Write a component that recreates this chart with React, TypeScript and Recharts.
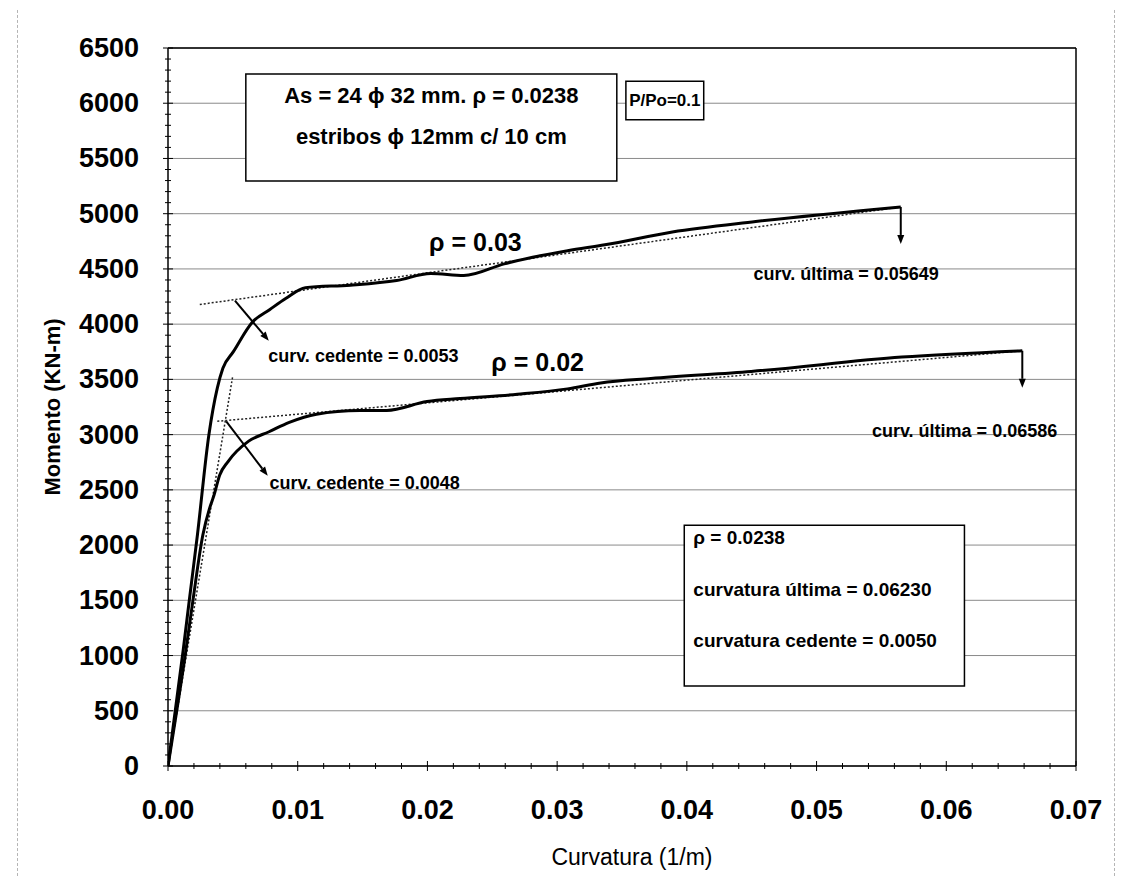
import React from 'react';
import {
  ComposedChart,
  Line,
  XAxis,
  YAxis,
  CartesianGrid,
  ReferenceLine,
  ReferenceArea,
  ReferenceDot,
  Label,
} from 'recharts';

// ---- data (curvatura 1/m, momento KN-m) ----
const rho03Curv = [0, 0.00117, 0.00164, 0.00227, 0.00315, 0.0038, 0.00423, 0.00504, 0.0065, 0.00783, 0.0091, 0.01059, 0.01406, 0.01762, 0.02026, 0.0228, 0.02592, 0.03081, 0.03368, 0.03888, 0.04531, 0.05649];
const rho03Mom = [0, 1048, 1498, 2094, 2997, 3421, 3600, 3751, 4018, 4131, 4235, 4330, 4353, 4395, 4458, 4440, 4546, 4665, 4718, 4835, 4929, 5061];

const rho02Curv = [0, 0.00138, 0.00192, 0.00269, 0.00321, 0.00355, 0.00398, 0.00463, 0.00622, 0.00779, 0.00935, 0.01145, 0.01478, 0.01686, 0.01997, 0.02252, 0.02693, 0.0308, 0.03336, 0.03723, 0.04496, 0.05657, 0.06586];
const rho02Mom = [0, 1047, 1497, 2093, 2335, 2452, 2632, 2756, 2941, 3026, 3111, 3185, 3218, 3219, 3299, 3326, 3365, 3414, 3468, 3509, 3572, 3702, 3759];

const rho03IdealCurv = [0.00245, 0.05649];
const rho03IdealMom = [4178, 5061];
const rho02ElasticCurv = [0, 0.00498];
const rho02ElasticMom = [0, 3523];
const rho02IdealCurv = [0.0038, 0.06586];
const rho02IdealMom = [3121, 3759];

const xMajorTicks = [0, 0.01, 0.02, 0.03, 0.04, 0.05, 0.06, 0.07];
const yMajorTicks = [0, 500, 1000, 1500, 2000, 2500, 3000, 3500, 4000, 4500, 5000, 5500, 6000, 6500];
const xMinorTicks = Array.from({ length: 36 }, (_, i) => +(i * 0.002).toFixed(3));
const yMinorTicks = Array.from({ length: 66 }, (_, i) => i * 100);

// arrows: [x1, y1, x2, y2]
const arrows = [
  [0.00516, 4213, 0.00777, 3850],
  [0.00449, 3119, 0.00769, 2627],
  [0.05649, 5061, 0.05649, 4726],
  [0.06586, 3759, 0.06586, 3424],
];

// boxes: [x1, x2, y1, y2]
const boxes = [
  [0.006, 0.0346, 5296, 6265],
  [0.0353, 0.0413, 5850, 6200],
  [0.0398, 0.0614, 725, 2180],
];

// texts
const texts = [
  { t: 'As = 24 \u03d5 32 mm.  \u03c1 = 0.0238', x: 0.0203, y: 6066, size: 22, anchor: 'middle' },
  { t: 'estribos \u03d5 12mm c/ 10 cm', x: 0.0203, y: 5695, size: 22, anchor: 'middle' },
  { t: 'P/Po=0.1', x: 0.0383, y: 6025, size: 17, anchor: 'middle' },
  { t: '\u03c1 = 0.03', x: 0.0237, y: 4740, size: 25, anchor: 'middle' },
  { t: '\u03c1 = 0.02', x: 0.0285, y: 3660, size: 25, anchor: 'middle' },
  { t: 'curv. cedente = 0.0053', x: 0.01506, y: 3715, size: 18, anchor: 'middle' },
  { t: 'curv. cedente = 0.0048', x: 0.01516, y: 2564, size: 18, anchor: 'middle' },
  { t: 'curv. última = 0.05649', x: 0.05228, y: 4451, size: 18, anchor: 'middle' },
  { t: 'curv. última = 0.06586', x: 0.06141, y: 3033, size: 18, anchor: 'middle' },
  { t: '\u03c1 = 0.0238', x: 0.0405, y: 2065, size: 19, anchor: 'start' },
  { t: 'curvatura última = 0.06230', x: 0.0405, y: 1594, size: 19, anchor: 'start' },
  { t: 'curvatura cedente =  0.0050', x: 0.0405, y: 1133, size: 19, anchor: 'start' },
];

const FONT = '"Liberation Sans", Arial, Helvetica, sans-serif';

const toPts = (xs: number[], ys: number[]) => xs.map((c, i) => ({ c, m: ys[i] }));

const XTick = (props: any) => {
  const { x, y, payload } = props;
  const v = payload.value as number;
  const major = Math.abs(v * 100 - Math.round(v * 100)) < 1e-6;
  return (
    <g>
      <line x1={x} x2={x} y1={y - (major ? 5 : 3)} y2={y + (major ? 5 : 3)} stroke="#000" strokeWidth={1} />
      {major && (
        <text x={x} y={y + 53} textAnchor="middle" fontSize={27} fontWeight="bold" fontFamily={FONT} fill="#000">
          {v.toFixed(2)}
        </text>
      )}
    </g>
  );
};

const YTick = (props: any) => {
  const { x, y, payload } = props;
  const v = payload.value as number;
  const major = v % 500 === 0;
  return (
    <g>
      <line x1={x - (major ? 5 : 3)} x2={x + (major ? 5 : 3)} y1={y} y2={y} stroke="#000" strokeWidth={1} />
      {major && (
        <text x={x - 29} y={y} textAnchor="end" dominantBaseline="central" fontSize={27} fontWeight="bold" fontFamily={FONT} fill="#000">
          {v}
        </text>
      )}
    </g>
  );
};

const arrowShape = (p: any) => {
  const { x1, y1, x2, y2 } = p;
  const ang = Math.atan2(y2 - y1, x2 - x1);
  const L = 9;
  const W = 3.5;
  const bx = x2 - L * Math.cos(ang);
  const by = y2 - L * Math.sin(ang);
  const px = -Math.sin(ang) * W;
  const py = Math.cos(ang) * W;
  return (
    <g>
      <line x1={x1} y1={y1} x2={bx} y2={by} stroke="#000" strokeWidth={2} />
      <polygon points={`${x2},${y2} ${bx + px},${by + py} ${bx - px},${by - py}`} fill="#000" />
    </g>
  );
};

const textLabel = (t: any) => (props: any) => {
  const vb = props.viewBox || {};
  const cx = (vb.x ?? 0) + (vb.width ?? 0) / 2;
  const cy = (vb.y ?? 0) + (vb.height ?? 0) / 2;
  return (
    <text x={cx} y={cy} textAnchor={t.anchor} dominantBaseline="central" fontSize={t.size} fontWeight="bold" fontFamily={FONT} fill="#000">
      {t.t}
    </text>
  );
};

export default function App() {
  return (
    <div style={{ position: 'relative', width: 1109, height: 870, background: '#fff' }}>
      <div
        style={{
          position: 'absolute',
          left: 9,
          top: -3,
          width: 1096,
          height: 870,
          borderLeft: '1px dashed #b5b5b5',
          borderTop: '1px dashed #b5b5b5',
          borderRight: '1px dashed #b5b5b5',
          pointerEvents: 'none',
        }}
      />
      <ComposedChart width={1109} height={870} margin={{ top: 40, right: 41, bottom: 52, left: 0 }}>
        <CartesianGrid vertical={false} horizontalValues={yMajorTicks} stroke="#8a8a8a" strokeWidth={1} />
        <XAxis
          type="number"
          dataKey="c"
          domain={[0, 0.07]}
          ticks={xMinorTicks}
          interval={0}
          height={60}
          tickSize={0}
          tickMargin={0}
          tickLine={false}
          tick={<XTick />}
          axisLine={{ stroke: '#000', strokeWidth: 1.5 }}
          allowDataOverflow
        >
          <Label
            content={(p: any) => {
              const vb = p.viewBox;
              return (
                <text x={vb.x + vb.width / 2 + 10} y={vb.y + 91} textAnchor="middle" dominantBaseline="central" fontSize={23} fontFamily={FONT} fill="#000">
                  Curvatura (1/m)
                </text>
              );
            }}
          />
        </XAxis>
        <YAxis
          type="number"
          domain={[0, 6500]}
          ticks={yMinorTicks}
          interval={0}
          width={160}
          tickSize={0}
          tickMargin={0}
          tickLine={false}
          tick={<YTick />}
          axisLine={{ stroke: '#000', strokeWidth: 1.5 }}
          allowDataOverflow
        >
          <Label
            content={(p: any) => {
              const vb = p.viewBox;
              const cx = vb.x + 44.5;
              const cy = vb.y + vb.height / 2;
              return (
                <text x={cx} y={cy} transform={`rotate(-90 ${cx} ${cy})`} textAnchor="middle" dominantBaseline="central" fontSize={22} fontWeight="bold" fontFamily={FONT} fill="#000">
                  Momento (KN-m)
                </text>
              );
            }}
          />
        </YAxis>

        <ReferenceLine y={6500} stroke="#000" strokeWidth={1.5} />
        <ReferenceLine x={0.07} stroke="#000" strokeWidth={1.5} />

        {boxes.map((b, i) => (
          <ReferenceArea key={`box${i}`} x1={b[0]} x2={b[1]} y1={b[2]} y2={b[3]} fill="#fff" fillOpacity={1} stroke="#000" strokeWidth={1.5} />
        ))}

        <Line data={toPts(rho02ElasticCurv, rho02ElasticMom)} dataKey="m" type="linear" stroke="#222" strokeWidth={1.5} strokeDasharray="2 2" dot={false} isAnimationActive={false} />
        <Line data={toPts(rho02IdealCurv, rho02IdealMom)} dataKey="m" type="linear" stroke="#222" strokeWidth={1.5} strokeDasharray="2 2" dot={false} isAnimationActive={false} />
        <Line data={toPts(rho03IdealCurv, rho03IdealMom)} dataKey="m" type="linear" stroke="#222" strokeWidth={1.5} strokeDasharray="2 2" dot={false} isAnimationActive={false} />
        <Line data={toPts(rho03Curv, rho03Mom)} dataKey="m" type="monotone" stroke="#000" strokeWidth={3} dot={false} isAnimationActive={false} />
        <Line data={toPts(rho02Curv, rho02Mom)} dataKey="m" type="monotone" stroke="#000" strokeWidth={3} dot={false} isAnimationActive={false} />

        {arrows.map((a, i) => (
          <ReferenceLine
            key={`arr${i}`}
            segment={[{ x: a[0], y: a[1] }, { x: a[2], y: a[3] }]}
            stroke="#000"
            shape={arrowShape}
            ifOverflow="visible"
          />
        ))}

        {texts.map((t, i) => (
          <ReferenceDot key={`t${i}`} x={t.x} y={t.y} r={0} fill="none" stroke="none" ifOverflow="visible" label={textLabel(t)} />
        ))}
      </ComposedChart>
    </div>
  );
}
